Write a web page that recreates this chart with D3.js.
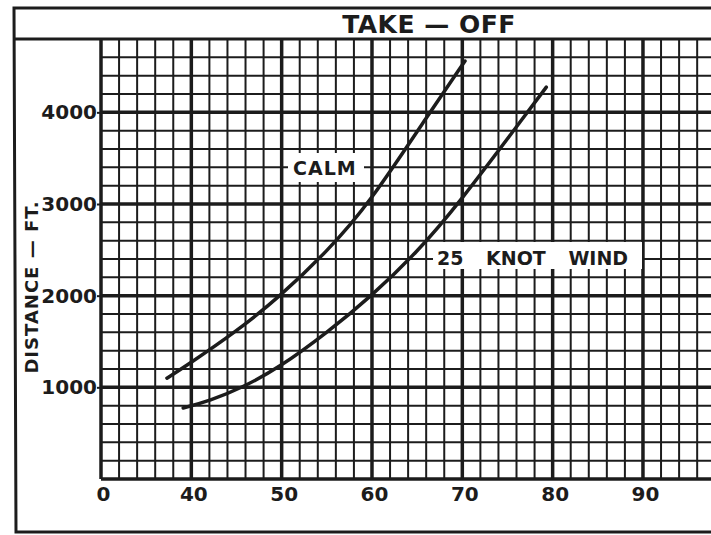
<!DOCTYPE html>
<html>
<head>
<meta charset="utf-8">
<script src="https://cdn.jsdelivr.net/npm/d3@7"></script>
<style>
  body { margin: 0; background: #fff; }
  svg { display: block; }
  text { font-family: 'DejaVu Sans', sans-serif; font-weight: bold; fill: #1c1c1c; }
</style>
</head>
<body>
<svg width="711" height="535"></svg>
<script>
// speeds (knots) and take-off distances (ft)
var calmSpeed = [37.3, 39.6, 45, 49.8, 55, 59.6, 66.4, 70.3]
var calmDist = [1100, 1245, 1610, 1990, 2480, 2990, 4000, 4560]
var windSpeed = [39.1, 42, 45.7, 49.8, 55, 60, 65, 69.5, 77.2, 79.3]
var windDist = [775, 850, 1000, 1220, 1595, 2000, 2475, 2990, 4000, 4275]

var xTicks = [30, 40, 50, 60, 70, 80, 90]
var xTickLabels = ['0', '40', '50', '60', '70', '80', '90']
var yTicks = [1000, 2000, 3000, 4000]

var ink = '#1c1c1c'
var svg = d3.select('svg')

var x = d3.scaleLinear().domain([30, 100]).range([101, 733.3])
var y = d3.scaleLinear().domain([0, 4800]).range([479, 39])

// outer frame and title band
svg.append('path')
    .attr('d', 'M714,8 L14,8 L16,532 L714,532')
    .attr('fill', 'none')
    .attr('stroke', ink)
    .attr('stroke-width', 3)
svg.append('line')
    .attr('x1', 14).attr('x2', 711)
    .attr('y1', 39).attr('y2', 39)
    .attr('stroke', ink)
    .attr('stroke-width', 3)

svg.append('text')
    .attr('x', 429)
    .attr('y', 33)
    .attr('text-anchor', 'middle')
    .attr('font-size', 25)
    .attr('letter-spacing', 0.5)
    .text('TAKE — OFF')

// graph paper
var grid = svg.append('g')
grid.selectAll('.vx')
    .data(d3.range(30, 100, 2))
  .enter().append('line')
    .attr('x1', d => x(d)).attr('x2', d => x(d))
    .attr('y1', y(4800)).attr('y2', y(0))
    .attr('stroke', ink)
    .attr('stroke-width', d => d % 10 === 0 ? 3.5 : 2)
grid.selectAll('.hy')
    .data(d3.range(0, 4801, 200))
  .enter().append('line')
    .attr('x1', x(30)).attr('x2', 711)
    .attr('y1', d => y(d)).attr('y2', d => y(d))
    .attr('stroke', ink)
    .attr('stroke-width', d => d % 1000 === 0 ? 3.5 : 2)

// curves (smoothed like the hand-drawn originals)
var line = d3.line()
    .x(d => x(d[0]))
    .y(d => y(d[1]))
    .curve(d3.curveBasis)

svg.append('path')
    .datum(calmSpeed.map((s, i) => [s, calmDist[i]]))
    .attr('d', line)
    .attr('fill', 'none')
    .attr('stroke', ink)
    .attr('stroke-width', 3.5)
    .attr('stroke-linecap', 'round')
svg.append('path')
    .datum(windSpeed.map((s, i) => [s, windDist[i]]))
    .attr('d', line)
    .attr('fill', 'none')
    .attr('stroke', ink)
    .attr('stroke-width', 3.5)
    .attr('stroke-linecap', 'round')

// curve labels on white patches
svg.append('rect')
    .attr('x', 288).attr('y', 153)
    .attr('width', 76).attr('height', 29)
    .attr('fill', '#fff')
svg.append('text')
    .attr('x', 293)
    .attr('y', 175)
    .attr('font-size', 19)
    .attr('letter-spacing', 1)
    .text('CALM')

svg.append('rect')
    .attr('x', 433).attr('y', 242)
    .attr('width', 209).attr('height', 27)
    .attr('fill', '#fff')
svg.append('text')
    .attr('x', 437)
    .attr('y', 265)
    .attr('font-size', 19)
    .attr('word-spacing', 16)
    .text('25 KNOT WIND')

// axes
var yAxis = d3.axisLeft(y).tickValues(yTicks).tickFormat(d3.format('d'))
    .tickSize(4).tickPadding(0)
svg.append('g')
    .attr('transform', 'translate(' + x(30) + ',0)')
    .call(yAxis)
    .call(g => g.select('.domain').remove())
    .call(g => g.selectAll('line').attr('stroke', ink).attr('stroke-width', 2))
    .call(g => g.selectAll('text').attr('font-size', 20).attr('fill', ink))

var xAxis = d3.axisBottom(x).tickValues(xTicks)
    .tickFormat((d, i) => xTickLabels[i]).tickSize(0).tickPadding(8)
svg.append('g')
    .attr('transform', 'translate(2,' + y(0) + ')')
    .call(xAxis)
    .call(g => g.select('.domain').remove())
    .call(g => g.selectAll('text').attr('font-size', 20).attr('fill', ink))

svg.append('text')
    .attr('transform', 'translate(38,287) rotate(-90)')
    .attr('text-anchor', 'middle')
    .attr('font-size', 18)
    .attr('letter-spacing', 1)
    .text('DISTANCE — FT.')
</script>
</body>
</html>
